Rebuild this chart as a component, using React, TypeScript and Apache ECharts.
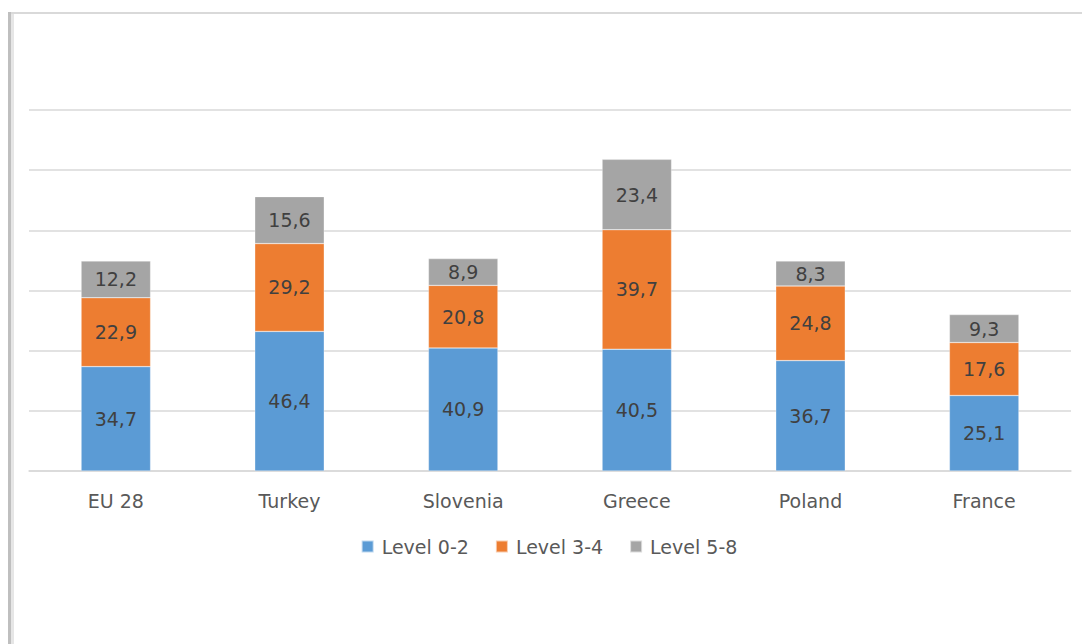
import React, { useEffect, useRef } from "react";
import * as echarts from "echarts";

const categories = ["EU 28", "Turkey", "Slovenia", "Greece", "Poland", "France"];
const level02 = [34.7, 46.4, 40.9, 40.5, 36.7, 25.1];
const level34 = [22.9, 29.2, 20.8, 39.7, 24.8, 17.6];
const level58 = [12.2, 15.6, 8.9, 23.4, 8.3, 9.3];
const seriesNames = ["Level 0-2", "Level 3-4", "Level 5-8"];
const colors = ["#5b9bd5", "#ed7d31", "#a5a5a5"];

const FONT = "DejaVu Sans";

export default function App() {
  const ref = useRef<HTMLDivElement>(null);
  useEffect(() => {
    if (!ref.current) return;
    const chart = echarts.init(ref.current, undefined, { renderer: "svg" });
    const data = [level02, level34, level58];
    chart.setOption({
      animation: false,
      backgroundColor: "#ffffff",
      textStyle: { fontFamily: FONT },
      graphic: [
        { type: "rect", shape: { x: 0, y: 4, width: 1082, height: 2 }, style: { fill: "#d9d9d9" } },
        { type: "rect", shape: { x: 0, y: 4, width: 3, height: 632 }, style: { fill: "#bfbfbf" } },
        { type: "rect", shape: { x: 3, y: 6, width: 3, height: 630 }, style: { fill: "#e6e6e6" } },
      ],
      grid: { left: 21, right: 19, top: 102, bottom: 173, containLabel: false },
      legend: {
        data: seriesNames,
        bottom: 83,
        left: "center",
        itemWidth: 12,
        itemHeight: 12,
        itemGap: 26,
        icon: "rect",
        textStyle: { color: "#595959", fontSize: 19, fontFamily: FONT, padding: [0, 0, 0, 3] },
      },
      xAxis: {
        type: "category",
        data: categories,
        axisLine: { lineStyle: { color: "#d9d9d9", width: 1.5 } },
        axisTick: { show: false },
        axisLabel: { color: "#595959", fontSize: 19, margin: 20, fontFamily: FONT },
      },
      yAxis: {
        type: "value",
        min: 0,
        max: 120,
        interval: 20,
        axisLabel: { show: false },
        axisLine: { show: false },
        axisTick: { show: false },
        splitLine: { lineStyle: { color: "#d9d9d9", width: 1.5 } },
      },
      series: seriesNames.map((name, i) => ({
        name,
        type: "bar",
        stack: "total",
        barWidth: "40%",
        data: data[i],
        itemStyle: { color: colors[i], borderColor: "rgba(255,255,255,0.6)", borderWidth: 0.5 },
        label: {
          show: true,
          position: "inside",
          color: "#404040",
          fontSize: 19,
          fontFamily: FONT,
          formatter: (p: any) => String(p.value).replace(".", ","),
        },
      })),
    });
    return () => chart.dispose();
  }, []);
  return <div ref={ref} style={{ width: 1082, height: 636 }} />;
}
